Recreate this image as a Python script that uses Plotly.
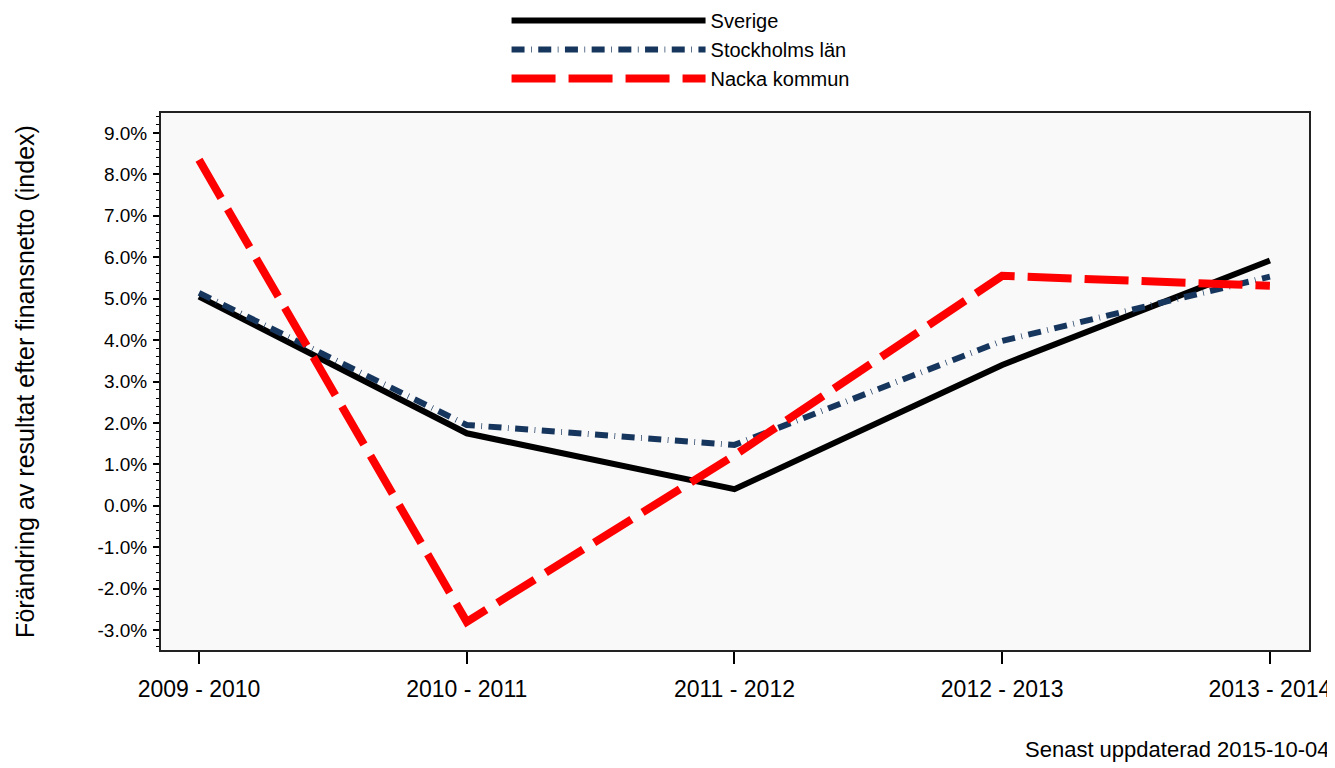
import plotly.graph_objects as go

periods = ["2009 - 2010", "2010 - 2011", "2011 - 2012", "2012 - 2013", "2013 - 2014"]
sverige = [5.05, 1.75, 0.40, 3.40, 5.92]
stockholm = [5.14, 1.95, 1.47, 3.98, 5.53]
nacka = [8.35, -2.80, 1.22, 5.55, 5.31]

y_ticks = [-3, -2, -1, 0, 1, 2, 3, 4, 5, 6, 7, 8, 9]
y_ticktext = ["-3.0%", "-2.0%", "-1.0%", "0.0%", "1.0%", "2.0%", "3.0%",
              "4.0%", "5.0%", "6.0%", "7.0%", "8.0%", "9.0%"]

FONT = "Arial, Liberation Sans, sans-serif"

fig = go.Figure()
fig.add_trace(go.Scatter(x=list(range(len(periods))), y=sverige, mode="lines", name="Sverige",
                         line=dict(color="black", width=6)))
fig.add_trace(go.Scatter(x=list(range(len(periods))), y=stockholm, mode="lines", name="Stockholms län",
                         line=dict(color="#17365d", width=6, dash="13px,6.5px,0.7px,6.5px")))
fig.add_trace(go.Scatter(x=list(range(len(periods))), y=nacka, mode="lines", name="Nacka kommun",
                         line=dict(color="#ff0000", width=8, dash="44px,13px")))

fig.add_annotation(text="Senast uppdaterad 2015-10-04", xref="paper", yref="paper",
                   x=0.751, y=-0.186, xanchor="left", yanchor="middle", showarrow=False,
                   font=dict(size=22, color="black", family=FONT))

fig.update_xaxes(range=[-0.142, 4.146], tickvals=list(range(len(periods))), ticktext=periods,
                 ticks="outside", ticklen=12, tickcolor="black", tickwidth=1.5,
                 showline=True, linecolor="#222", linewidth=2, mirror=True,
                 showgrid=False, zeroline=False, tickfont=dict(size=23, color="black"),
                 ticklabelstandoff=5)
fig.update_yaxes(range=[-3.48, 9.48], tickvals=y_ticks, ticktext=y_ticktext,
                 ticks="outside", ticklen=6, tickcolor="black", tickwidth=1.5,
                 minor=dict(dtick=0.2, ticks="outside", ticklen=3, tickcolor="black", tickwidth=1),
                 showline=True, linecolor="#222", linewidth=2, mirror=True,
                 showgrid=False, zeroline=False, tickfont=dict(size=19, color="black"),
                 ticklabelstandoff=2,
                 title=dict(text="Förändring av resultat efter finansnetto (index)",
                            font=dict(size=25, color="black"), standoff=56))

# page body has an 8px margin, so the figure is sized to fit the window
fig.update_layout(
    width=1327, height=760,
    margin=dict(l=153, r=26, t=105, b=118, autoexpand=False),
    paper_bgcolor="white", plot_bgcolor="#f9f9f9",
    font=dict(family=FONT, color="black"),
    showlegend=True,
    legend=dict(x=0.301, y=1.2086, xanchor="left", yanchor="top", orientation="v",
                font=dict(size=20, color="black"), itemwidth=194,
                bgcolor="rgba(0,0,0,0)", tracegroupgap=0),
)

fig.write_html("out.html")
